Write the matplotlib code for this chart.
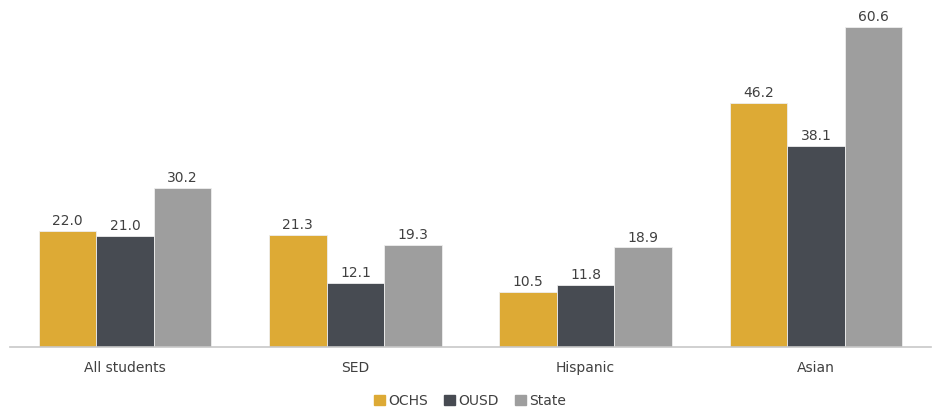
import numpy as np
import matplotlib.pyplot as plt
from matplotlib.patches import Patch

categories = ["All students", "SED", "Hispanic", "Asian"]
series = ["OCHS", "OUSD", "State"]
ochs = [22.0, 21.3, 10.5, 46.2]
ousd = [21.0, 12.1, 11.8, 38.1]
state = [30.2, 19.3, 18.9, 60.6]
colors = ["#DDAA35", "#474B52", "#9E9E9E"]

fig = plt.figure(figsize=(9.32, 4.13), dpi=100)
ax = fig.add_axes([10 / 932, 66 / 413, 921 / 932, 338 / 413])

index = np.arange(len(categories))
bar_width = 0.25
values = [ochs, ousd, state]
for i, vals in enumerate(values):
	pos = index + (i - 1) * bar_width
	bars = ax.bar(pos, vals, bar_width, color=colors[i], edgecolor="#eeeeee", linewidth=0.6, label=series[i])
	for x, v in zip(pos, vals):
		ax.text(x, v + 0.5, "%.1f" % v, ha="center", va="bottom", fontsize=10, color="#404040")

ax.set_xlim(-0.5, 3.5)
ax.set_ylim(0, 64)
ax.set_xticks(index)
ax.set_xticklabels(categories, fontsize=10, color="#404040")
ax.tick_params(axis="x", length=0, pad=10)
ax.set_yticks([])
for s in ["top", "left", "right"]:
	ax.spines[s].set_visible(False)
ax.spines["bottom"].set_color("#c8c8c8")
ax.spines["bottom"].set_linewidth(1.2)

handles = [Patch(color=c, label=l) for c, l in zip(colors, series)]
fig.legend(handles=handles, loc="center", bbox_to_anchor=(470 / 932, 1 - 401 / 413), ncol=3,
	frameon=False, fontsize=10, handlelength=0.8, handleheight=0.8, handletextpad=0.2, columnspacing=1.2,
	labelcolor="#404040")

fig.savefig("out.png", dpi=100)
